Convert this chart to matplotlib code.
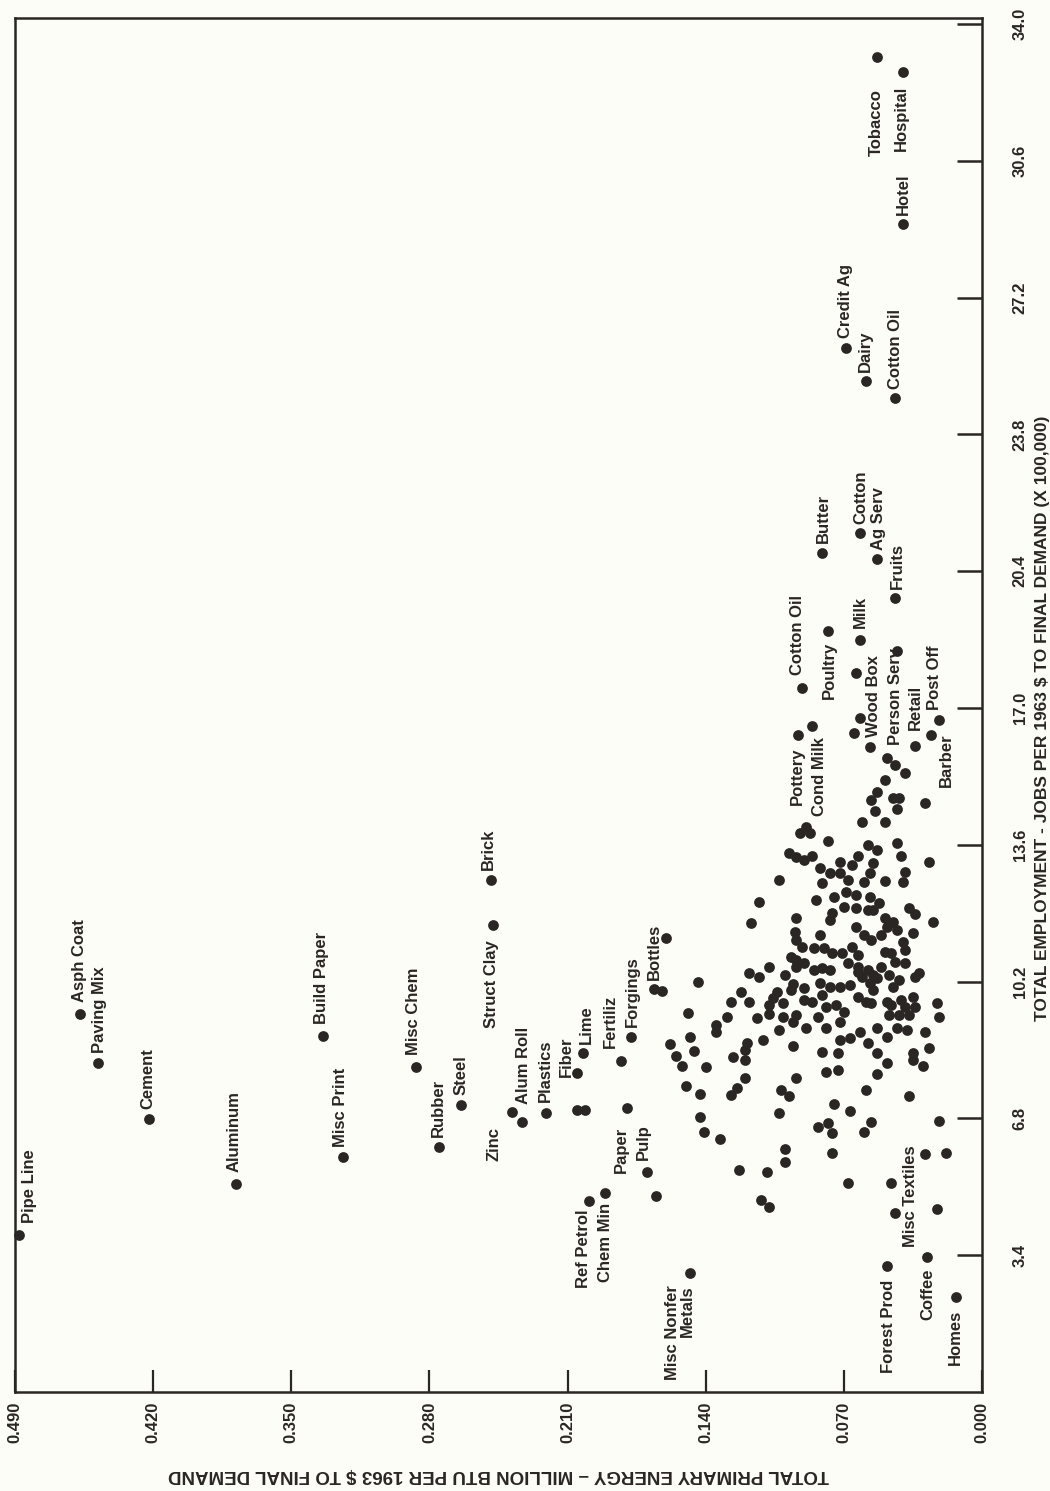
import matplotlib
matplotlib.use('Agg')
import matplotlib.pyplot as plt

# ---- data: (energy MBTU per $, jobs per $ x 100,000) ----
# sectors that carry a name
label_names = ['Pipe Line', 'Asph Coat', 'Paving Mix', 'Cement', 'Aluminum', 'Build Paper',
               'Misc Print', 'Misc Chem', 'Rubber', 'Steel', 'Brick', 'Struct Clay', 'Zinc',
               'Alum Roll', 'Plastics', 'Fiber', 'Lime', 'Fertiliz', 'Forgings', 'Bottles',
               'Paper', 'Pulp', 'Ref Petrol', 'Chem Min', 'Misc Nonfer\nMetals', 'Forest Prod',
               'Coffee', 'Homes', 'Misc Textiles', 'Pottery', 'Cond Milk', 'Cotton Oil',
               'Poultry', 'Milk', 'Wood Box', 'Person Serv', 'Retail', 'Post Off', 'Barber',
               'Butter', 'Cotton', 'Ag Serv', 'Fruits', 'Credit Ag', 'Dairy', 'Cotton Oil',
               'Hotel', 'Tobacco', 'Hospital']
label_energy = [0.488, 0.457, 0.448, 0.422, 0.378, 0.334, 0.324, 0.287, 0.275, 0.264,
                0.249, 0.248, 0.238, 0.233, 0.221, 0.205, 0.202, 0.183, 0.178, 0.166,
                0.180, 0.170, 0.199, 0.191, 0.148, 0.048, 0.028, 0.013, 0.044, 0.093,
                0.086, 0.091, 0.078, 0.062, 0.057, 0.048, 0.034, 0.022, 0.026, 0.081,
                0.062, 0.053, 0.044, 0.069, 0.059, 0.044, 0.040, 0.053, 0.040]
label_jobs = [3.90, 9.39, 8.18, 6.78, 5.17, 8.85, 5.84, 8.08, 6.09, 7.13,
              12.72, 11.60, 6.96, 6.71, 6.93, 7.93, 8.42, 8.23, 8.82, 10.01,
              7.06, 5.47, 4.75, 4.95, 2.96, 3.13, 3.35, 2.36, 4.45, 16.33,
              16.55, 17.49, 18.91, 18.69, 16.03, 15.75, 16.05, 16.70, 16.33, 20.85,
              21.35, 20.70, 19.73, 25.94, 25.12, 24.70, 29.02, 33.17, 32.80]

# unnamed sectors (energy, jobs)
cloud_points = [
    (0.062, 16.75), (0.065, 16.38), (0.064, 17.87), (0.043, 18.41), (0.044, 15.58),
    (0.039, 15.38), (0.049, 15.21), (0.053, 14.91), (0.056, 14.71), (0.054, 14.44),
    (0.045, 14.76), (0.042, 14.76), (0.043, 14.49), (0.029, 14.64), (0.061, 14.16),
    (0.049, 14.16), (0.089, 14.04),
    (0.092, 13.89), (0.098, 13.39), (0.094, 13.29), (0.103, 12.72), (0.113, 12.18),
    (0.117, 11.65), (0.094, 11.78), (0.095, 11.43), (0.094, 11.23), (0.160, 11.28),
    (0.162, 9.96), (0.144, 10.19), (0.149, 9.42), (0.108, 10.56), (0.118, 10.41),
    (0.113, 10.31), (0.100, 10.36), (0.096, 10.14), (0.097, 9.99), (0.122, 9.94),
    (0.127, 9.69), (0.118, 9.69), (0.104, 9.94), (0.106, 9.79), (0.108, 9.62),
    (0.101, 9.67), (0.097, 10.81), (0.094, 10.74), (0.094, 10.56), (0.129, 9.32),
    (0.114, 9.29), (0.101, 9.32), (0.094, 9.37),
    (0.087, 13.89), (0.078, 13.69), (0.043, 13.64), (0.058, 13.59), (0.053, 13.47),
    (0.090, 13.22), (0.086, 13.32), (0.041, 13.32), (0.027, 13.17), (0.063, 13.32),
    (0.066, 13.10), (0.072, 13.17), (0.082, 13.02), (0.077, 12.90), (0.072, 12.90),
    (0.068, 12.72), (0.039, 12.92), (0.040, 12.67), (0.049, 12.70), (0.060, 12.67),
    (0.057, 12.90), (0.055, 13.15), (0.081, 12.65), (0.075, 12.30), (0.069, 12.43),
    (0.064, 12.35), (0.084, 12.23), (0.057, 12.30), (0.052, 12.15), (0.055, 11.98),
    (0.070, 12.05), (0.064, 12.03), (0.058, 11.98), (0.037, 12.03), (0.034, 11.88),
    (0.025, 11.68), (0.076, 11.90), (0.077, 11.73), (0.049, 11.78), (0.045, 11.68),
    (0.043, 11.48), (0.064, 11.56), (0.060, 11.36), (0.056, 11.23), (0.051, 11.36),
    (0.048, 11.56), (0.035, 11.41), (0.040, 11.18), (0.039, 10.98), (0.091, 11.06),
    (0.082, 11.36), (0.085, 11.03), (0.080, 11.03), (0.076, 10.91), (0.071, 10.91),
    (0.066, 11.06), (0.063, 10.86), (0.049, 10.93), (0.046, 10.91), (0.044, 10.69),
    (0.039, 10.66), (0.051, 10.56), (0.032, 10.41), (0.034, 10.31), (0.090, 10.66),
    (0.085, 10.49), (0.081, 10.54), (0.077, 10.49), (0.068, 10.66), (0.063, 10.56),
    (0.058, 10.49), (0.055, 10.36), (0.057, 10.16), (0.055, 9.99), (0.053, 10.29),
    (0.047, 10.36), (0.045, 10.06), (0.042, 10.24), (0.090, 10.04), (0.082, 10.16),
    (0.077, 10.06), (0.072, 10.06), (0.067, 10.11), (0.063, 10.44), (0.061, 10.31),
    (0.090, 9.74), (0.086, 9.69), (0.081, 9.87), (0.079, 9.57), (0.074, 9.62),
    (0.070, 9.44), (0.063, 9.82), (0.059, 9.69), (0.056, 9.67), (0.048, 9.69),
    (0.046, 9.62), (0.041, 9.74), (0.039, 9.57), (0.034, 9.57), (0.035, 9.82),
    (0.023, 9.67), (0.047, 9.37), (0.042, 9.37), (0.037, 9.37),
    (0.135, 9.12), (0.135, 8.95), (0.108, 9.39), (0.103, 9.00), (0.096, 9.19),
    (0.158, 8.65), (0.148, 8.82), (0.155, 8.35), (0.152, 8.10), (0.146, 8.47),
    (0.140, 8.08), (0.126, 8.32), (0.119, 8.67), (0.120, 8.50), (0.120, 8.25),
    (0.111, 8.75), (0.096, 8.60), (0.150, 7.60), (0.143, 7.41), (0.120, 7.80),
    (0.124, 7.55), (0.127, 7.38), (0.102, 7.50), (0.098, 7.36), (0.094, 7.80),
    (0.143, 6.83), (0.141, 6.46), (0.133, 6.29), (0.103, 6.93), (0.100, 6.04),
    (0.100, 5.72), (0.123, 5.52), (0.109, 5.47), (0.165, 4.87), (0.112, 4.77),
    (0.108, 4.60),
    (0.089, 9.05), (0.083, 9.32), (0.079, 9.05), (0.072, 9.19), (0.072, 8.75),
    (0.067, 8.80), (0.062, 8.95), (0.058, 8.67), (0.053, 9.05), (0.048, 8.82),
    (0.043, 9.05), (0.038, 9.00), (0.022, 9.32), (0.029, 8.95), (0.027, 8.55),
    (0.030, 8.10), (0.035, 8.42), (0.035, 8.25), (0.081, 8.45), (0.073, 8.42),
    (0.053, 8.42), (0.048, 8.18), (0.053, 7.90), (0.079, 7.95), (0.073, 8.00),
    (0.059, 7.50), (0.037, 7.36), (0.075, 7.16), (0.067, 6.98), (0.056, 6.71),
    (0.060, 6.46), (0.022, 6.73), (0.083, 6.59), (0.078, 6.68), (0.076, 6.44),
    (0.076, 5.94), (0.029, 5.91), (0.018, 5.94), (0.068, 5.19), (0.046, 5.19),
    (0.023, 4.55), (0.205, 7.01), (0.201, 7.01),
]

energy_ticks = [0.490, 0.420, 0.350, 0.280, 0.210, 0.140, 0.070, 0.000]
jobs_ticks = [3.4, 6.8, 10.2, 13.6, 17.0, 20.4, 23.8, 27.2, 30.6, 34.0]

# where each name sits next to its dot: (dx px, dy px, vertical alignment)
label_place = [
    (11, 12, 'bottom'), (-1, 12, 'bottom'), (2, 10, 'bottom'), (-1, 10, 'bottom'),
    (-2, 12, 'bottom'), (-1, 12, 'bottom'), (-2, 10, 'bottom'), (-2, 12, 'bottom'),
    (-1, 10, 'bottom'), (0, 10, 'bottom'), (-2, 10, 'bottom'), (-1, -15, 'top'),
    (-18, -15, 'top'), (1, 18, 'bottom'), (0, 11, 'bottom'), (-11, -4, 'bottom'),
    (3, 9, 'bottom'), (-10, 13, 'bottom'), (2, 10, 'bottom'), (0, 9, 'bottom'),
    (-5, -19, 'top'), (-3, 12, 'bottom'), (-6, -9, 'top'), (0, -10, 'top'),
    (-10, -12, 'top'), (1, -14, 'top'), (1, -11, 'top'), (-1, -13, 'top'),
    (15, 17, 'center'), (-1, -13, 'top'), (7, -11, 'top'), (-5, 13, 'bottom'),
    (1, -11, 'top'), (1, 12, 'bottom'), (4, 10, 'bottom'), (8, 13, 'bottom'),
    (0, 16, 'bottom'), (-4, 10, 'bottom'), (16, 2, 'top'), (1, 10, 'bottom'),
    (1, 9, 'bottom'), (1, 9, 'bottom'), (2, 9, 'bottom'), (0, 10, 'bottom'),
    (0, 9, 'bottom'), (0, 9, 'bottom'), (0, 9, 'bottom'), (-1, -32, 'top'),
    (-2, -13, 'top'),
]

paper = '#fdfdf8'
ink = '#2a2624'
label_font = ['Liberation Sans', 'DejaVu Sans']
tick_font = ['Liberation Sans Narrow', 'Liberation Sans', 'DejaVu Sans']

fig = plt.figure(figsize=(10.5, 14.91), dpi=100, facecolor=paper)
ax = fig.add_axes([15 / 1050, 99 / 1491, 967 / 1050, 1374 / 1491])
ax.set_facecolor(paper)

# the page is turned: energy runs along the bottom (reversed), jobs up the right side
ax.set_xlim(0.49, 0.0)
ax.set_ylim(0, 34.15)

cloud_e = [p[0] for p in cloud_points]
cloud_j = [p[1] for p in cloud_points]
ax.scatter(cloud_e + label_energy, cloud_j + label_jobs, s=60, c=ink,
           linewidths=0, zorder=3, clip_on=False)

for name, e, j, (dx, dy, va) in zip(label_names, label_energy, label_jobs, label_place):
    ax.annotate(name, (e, j), xytext=(dx, dy), textcoords='offset pixels',
                rotation=90, ha='center', va=va, multialignment='right',
                linespacing=1.0, fontsize=12, fontweight='bold',
                family=label_font, color=ink, zorder=4)

for side in ax.spines.values():
    side.set_linewidth(1.8)
    side.set_color(ink)

ax.set_xticks(energy_ticks)
ax.set_xticklabels([f'{v:.3f}' for v in energy_ticks], rotation=90,
                   fontsize=12, fontweight='bold', family=tick_font, color=ink)
ax.tick_params(axis='x', direction='in', length=16, width=1.6, color=ink, pad=7)

ax.yaxis.tick_right()
ax.set_yticks(jobs_ticks)
ax.set_yticklabels([f'{v:.1f}' for v in jobs_ticks], rotation=90, va='center',
                   fontsize=12, fontweight='bold', family=tick_font, color=ink)
ax.tick_params(axis='y', direction='in', length=18, width=1.8, color=ink, pad=22,
               left=False, labelleft=False, right=True, labelright=True)

ax.set_xlabel('TOTAL PRIMARY ENERGY \u2013 MILLION BTU PER 1963 $ TO FINAL DEMAND',
              rotation=180, fontsize=13.5, fontweight='bold', family=label_font, color=ink)
ax.xaxis.label.set_va('center')
ax.xaxis.set_label_coords(0.5, -(1474 - 1392) / 1374)

ax.yaxis.set_label_position('right')
ax.set_ylabel('TOTAL EMPLOYMENT - JOBS PER 1963 $ TO FINAL DEMAND (X 100,000)',
              rotation=90, fontsize=12.5, fontweight='bold', family=label_font, color=ink)
ax.yaxis.label.set_va('center')
ax.yaxis.label.set_rotation_mode('anchor')
ax.yaxis.set_label_coords(1 + (1043 - 982) / 967, 0.49)

fig.savefig('out.png', dpi=100, facecolor=paper)
